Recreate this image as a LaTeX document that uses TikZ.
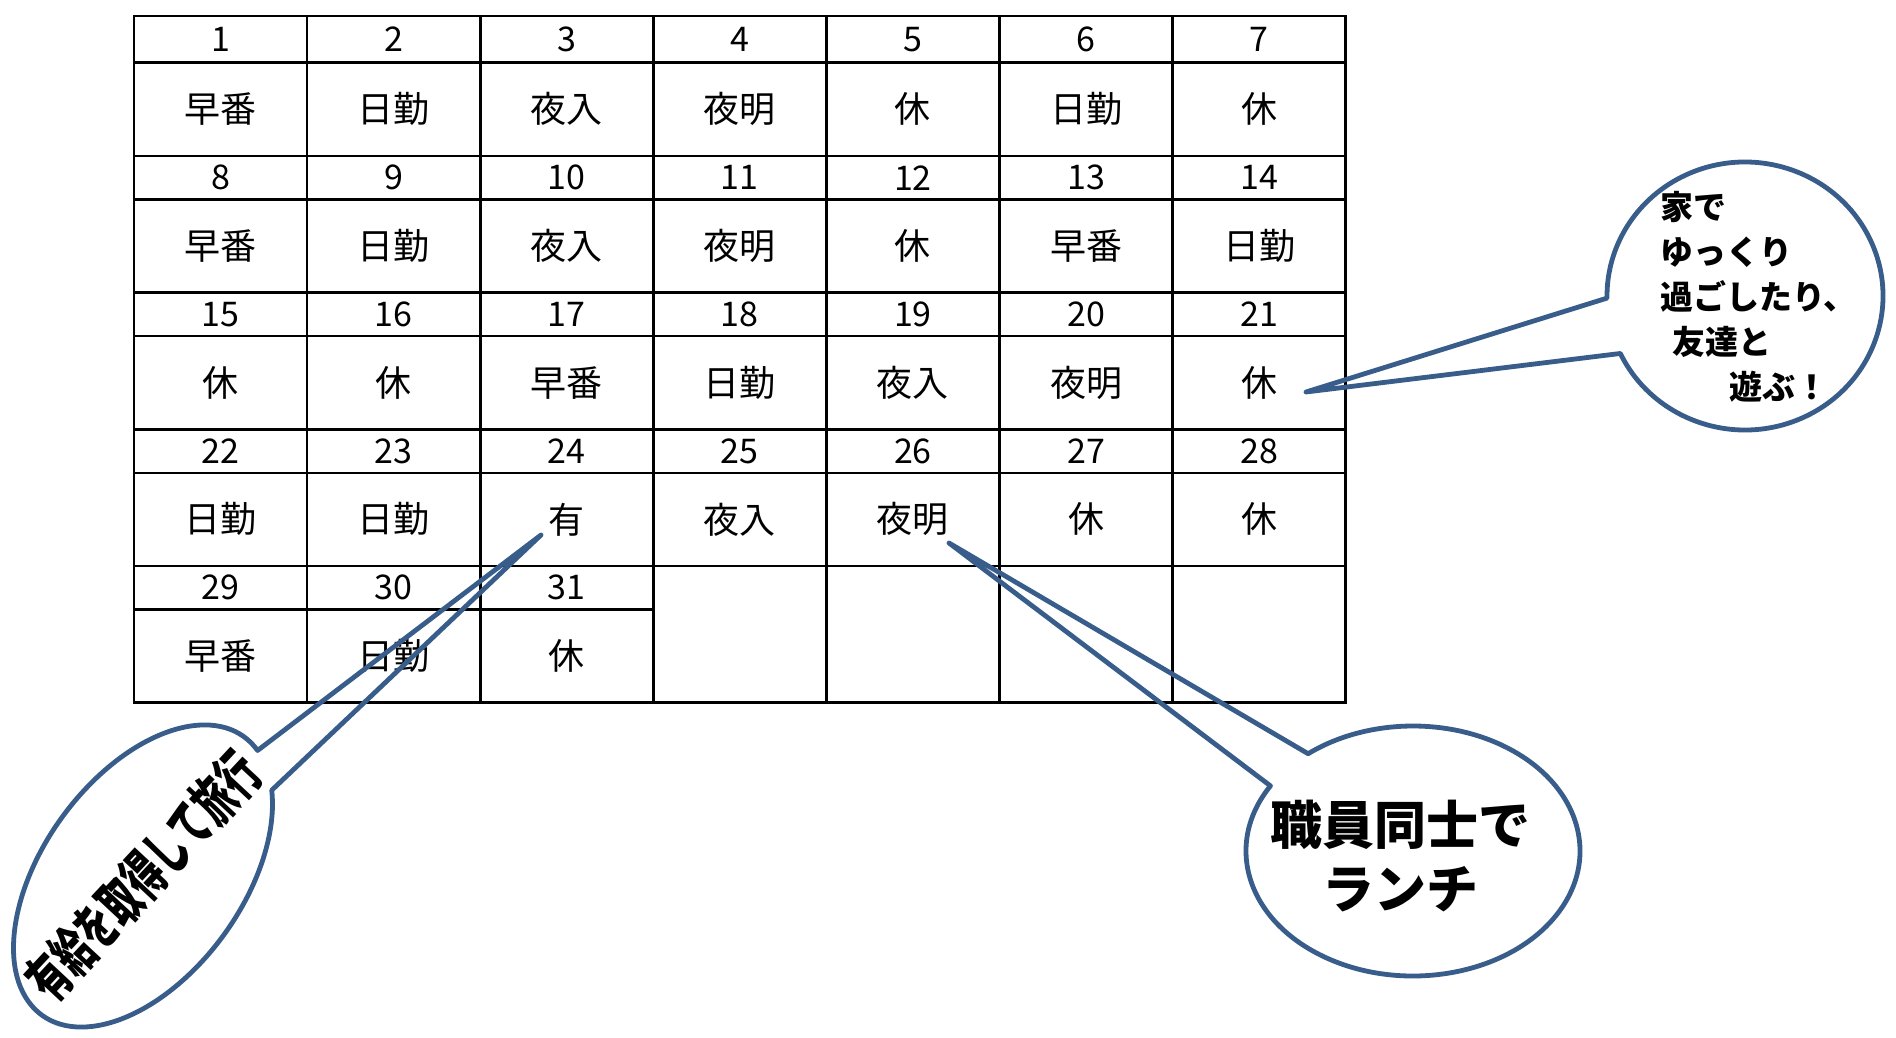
\documentclass[tikz,border=0pt]{standalone}
\usepackage{fontspec}
\setmainfont{Noto Sans CJK JP}
\usepackage{graphicx}
\definecolor{bubblue}{RGB}{56,93,138}
\begin{document}
\begin{tikzpicture}[x=1pt,y=1pt,
  gridline/.style={line width=2.6pt, line cap=rect},
  numtxt/.style={font=\fontsize{34}{40}\selectfont, inner sep=0pt},
  shifttxt/.style={font=\fontsize{36}{40}\selectfont, inner sep=0pt},
  bubble/.style={draw=bubblue, line width=4.8pt, line join=round, line cap=round}]
\useasboundingbox (0,0) rectangle (1896,-1038);
\fill[white] (0,0) rectangle (1896,-1038);
% table grid
\draw[gridline] (134,-16) rectangle (1345.7,-702.5);
\foreach \y in {62.5,156,199.5,292.6,336.1,429.2,472.8,565.9}
  \draw[gridline] (134,-\y) -- (1345.7,-\y);
\draw[gridline] (134,-609.4) -- (653.3,-609.4);
\foreach \x in {307.1,480.2,653.3,826.4,999.5,1172.6}
  \draw[gridline] (\x,-16) -- (\x,-702.5);
% cells
\foreach \w/\ta/\tb/\tc/\lst in {
  0/16/62.5/156/{早番,日勤,夜入,夜明,休,日勤,休},
  1/156/199.5/292.6/{早番,日勤,夜入,夜明,休,早番,日勤},
  2/292.6/336.1/429.2/{休,休,早番,日勤,夜入,夜明,休},
  3/429.2/472.8/565.9/{日勤,日勤,有,夜入,夜明,休,休},
  4/565.9/609.4/702.5/{早番,日勤,休}}{
  \foreach \s [count=\c from 0] in \lst {
    \pgfmathtruncatemacro\dd{7*\w+\c+1}
    \node[numtxt] (d\dd) at ({134+173.1*(\c+0.5)},{-(\ta+\tb)/2}) {\dd};
    \node[shifttxt] (s\dd) at ({134+173.1*(\c+0.5)},{-(\tb+\tc)/2}) {\s};
  }
}
% bubble tips
\coordinate (tipA) at (541,-535);
\coordinate (tipB) at (949,-543);
\coordinate (tipC) at (1306,-392);
% left bubble
\begin{scope}[shift={(143,-876)}, rotate=54]
\draw[bubble] (-10.9:172 and 100) arc[start angle=-10.9, end angle=327.5, x radius=172, y radius=100] -- (tipA) -- cycle;
\end{scope}
\node[font=\bfseries\fontsize{56}{56}\selectfont, rotate=47, inner sep=0pt] (txtA) at (143,-876) {\scalebox{0.62}[1]{有給を取得して旅行}};
% bottom-right bubble
\begin{scope}[shift={(1413,-851)}]
\draw[bubble] (148.6:167 and 125) arc[start angle=148.6, end angle=488.9, x radius=167, y radius=125] -- (tipB) -- cycle;
\end{scope}
\node[font=\bfseries\fontsize{52}{64}\selectfont, align=center, inner sep=0pt] (txtB) at (1400,-856) {職員同士で\\ランチ};
% right bubble
\begin{scope}[shift={(1745,-296)}]
\draw[bubble] (205.4:138 and 134) arc[start angle=205.4, end angle=540.9, x radius=138, y radius=134] -- (tipC) -- cycle;
\end{scope}
\node[font=\bfseries\fontsize{33}{45}\selectfont, align=left, anchor=north west, inner sep=0pt] (txtC) at (1660,-191) {家で\\ゆっくり\\過ごしたり、\\\hspace*{12pt}友達と\\\hspace*{69pt}遊ぶ！};
\end{tikzpicture}
\end{document}
